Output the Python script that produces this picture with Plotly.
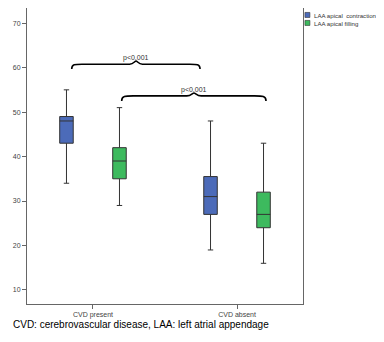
import plotly.graph_objects as go

categories = ["CVD present", "CVD absent"]
series_names = ["LAA apical  contraction", "LAA apical filling"]
colors = ["#4c6bb9", "#3dba5e"]

# box statistics per series: [CVD present, CVD absent]
contraction_low = [34, 19]
contraction_q1 = [43, 27]
contraction_med = [48, 31]
contraction_q3 = [49, 35.5]
contraction_high = [55, 48]

filling_low = [29, 16]
filling_q1 = [35, 24]
filling_med = [39, 27]
filling_q3 = [42, 32]
filling_high = [51, 43]

y_ticks = [10, 20, 30, 40, 50, 60, 70]
p_labels = ["p<0.001", "p<0.001"]
caption = "CVD: cerebrovascular disease, LAA: left atrial appendage"

stats = [
    (contraction_low, contraction_q1, contraction_med, contraction_q3, contraction_high),
    (filling_low, filling_q1, filling_med, filling_q3, filling_high),
]

fig = go.Figure()
for name, color, (lo, q1, med, q3, hi) in zip(series_names, colors, stats):
    fig.add_trace(go.Box(
        name=name, x=categories, q1=q1, median=med, q3=q3,
        lowerfence=lo, upperfence=hi,
        fillcolor=color, line=dict(color="#333333", width=1),
        whiskerwidth=0.4, boxpoints=False, showlegend=False,
    ))

def brace(x0, x1, xm, yend, yflat, ytip):
    a = (x1 - x0) * 0.08
    b = (x1 - x0) * 0.05
    return (f"M {x0},{yend} C {x0},{yflat} {x0+a*0.3},{yflat} {x0+a},{yflat} "
            f"L {xm-b},{yflat} C {xm-b*0.4},{yflat} {xm-b*0.2},{ytip} {xm},{ytip} "
            f"C {xm+b*0.2},{ytip} {xm+b*0.4},{yflat} {xm+b},{yflat} "
            f"L {x1-a},{yflat} C {x1-a*0.3},{yflat} {x1},{yflat} {x1},{yend}")

braces = [
    (0.162, 0.627, 0.395, 0.794, 0.810, 0.821, 0.851),
    (0.343, 0.866, 0.605, 0.686, 0.703, 0.713, 0.742),
]
shapes = []
annotations = []
for (x0, x1, xm, ye, yf, yt, yl), lab in zip(braces, p_labels):
    shapes.append(dict(type="path", xref="paper", yref="paper",
                       path=brace(x0, x1, xm, ye, yf, yt),
                       line=dict(color="black", width=1.6)))
    annotations.append(dict(xref="paper", yref="paper", x=xm, y=yl, text=lab,
                            showarrow=False, font=dict(size=7, color="#333333")))

# manual legend (square swatches + labels) to the right of the frame
legend_y = [(0.985, 0.968, 0.976), (0.958, 0.941, 0.949)]
for name, color, (ya, yb, yc) in zip(series_names, colors, legend_y):
    shapes.append(dict(type="rect", xref="paper", yref="paper",
                       x0=1.007, x1=1.025, y0=yb, y1=ya,
                       fillcolor=color, line=dict(color="#333333", width=0.6)))
    annotations.append(dict(xref="paper", yref="paper", x=1.031, y=yc,
                            xanchor="left", yanchor="middle",
                            text=name.replace("  ", "&nbsp; "), showarrow=False,
                            font=dict(size=6.1, color="#333333")))

annotations.append(dict(xref="paper", yref="paper", x=-0.058, y=-0.068,
                        xanchor="left", yanchor="middle", text=caption,
                        showarrow=False, font=dict(size=10, color="black")))

fig.update_layout(
    width=376, height=334,
    margin=dict(l=19, r=81, t=0, b=38, autoexpand=False),
    paper_bgcolor="white", plot_bgcolor="white",
    font=dict(family="Liberation Sans, Arial, sans-serif", color="#444444"),
    boxmode="group", boxgap=0.264, boxgroupgap=0.745,
    showlegend=False,
    shapes=shapes, annotations=annotations,
)
fig.update_xaxes(showline=True, linecolor="#666666", linewidth=1, mirror=True,
                 ticks="outside", ticklen=4, tickcolor="#666666",
                 tickfont=dict(size=7, color="#444444"), showgrid=False,
                 range=[-0.458, 1.458], automargin=False)
fig.update_yaxes(showline=True, linecolor="#666666", linewidth=1, mirror=True,
                 ticks="outside", ticklen=4, tickcolor="#666666",
                 tickvals=y_ticks, tickfont=dict(size=7, color="#444444"),
                 showgrid=False, zeroline=False, range=[6.85, 73.4],
                 automargin=False)

fig.write_html("out.html")
